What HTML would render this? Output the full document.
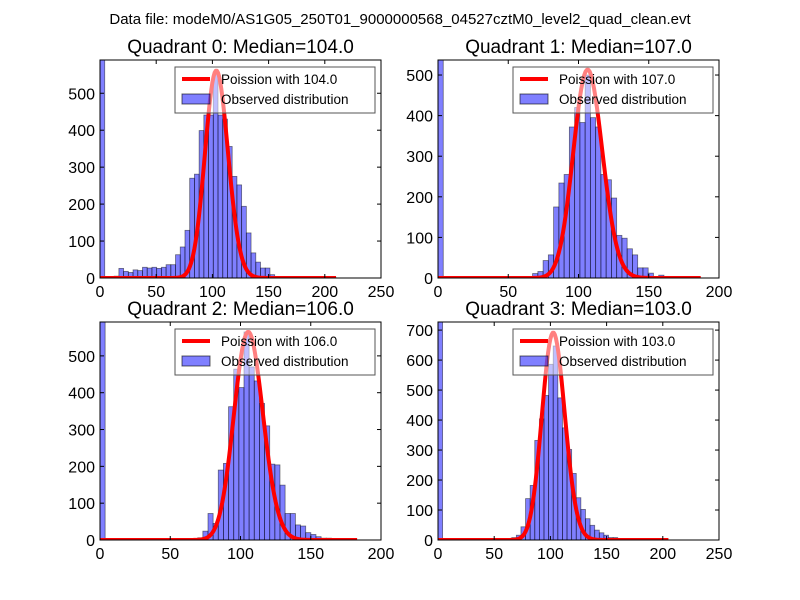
<!DOCTYPE html>
<html><head><meta charset="utf-8"><style>body{margin:0;background:#fff}svg{display:block;font-family:"Liberation Sans","DejaVu Sans",sans-serif}</style></head>
<body>
<svg id="fig" width="800" height="600" viewBox="0 0 800 600">
<rect width="800" height="600" fill="#fff"/>
<text x="400" y="24" text-anchor="middle" font-size="15">Data file: modeM0/AS1G05_250T01_9000000568_04527cztM0_level2_quad_clean.evt</text>
</svg>
<script>
const q0Counts=[590,0,0,5,26,18,15,22,20,29,27,29,26,29,36,36,63,84,129,270,281,399,441,441,558,441,430,356,275,252,194,122,68,43,27,27,9,0,4,4,2,1,2,1,1,2,2,2,1,1];
const q1Counts=[537,0,0,0,0,0,0,0,0,0,0,0,0,0,0,0,0,0,11,16,43,57,175,234,255,372,420,383,500,395,372,255,242,197,105,98,72,57,25,25,12,0,7,4,1,1,1,1,0,0];
const q2Counts=[592,0,0,0,0,0,0,0,0,0,0,0,0,0,0,0,0,0,0,6,24,72,45,190,208,362,464,414,565,470,432,371,310,206,204,149,72,72,41,38,20,15,9,5,5,0,0,0,0,0];
const q3Counts=[727,0,0,0,0,0,0,0,0,0,0,0,0,0,0,0,8,16,44,138,182,332,404,482,586,647,474,374,302,222,141,102,71,49,33,24,16,8,8,4,4,0,4,0,0,0];
const medians=[104,107,106,103];
const poissonPeaks=[561,513,565,691];
const binWidths=[4.2,3.74,3.66,4.1];
const curveMax=[210,187,183,205];
const xMaxes=[250,200,200,250];
const yMaxes=[590,537,592,727];
const xTicks=[[0,50,100,150,200,250],[0,50,100,150,200],[0,50,100,150,200],[0,50,100,150,200,250]];
const yTicks=[[0,100,200,300,400,500],[0,100,200,300,400,500],[0,100,200,300,400,500],[0,100,200,300,400,500,600,700]];
const counts=[q0Counts,q1Counts,q2Counts,q3Counts];
const boxes=[[100,60,281,218],[438,60,281,218],[100,322,281,218],[438,322,281,218]];
const NS='http://www.w3.org/2000/svg';
const svg=document.getElementById('fig');
function mk(t,a,p){const e=document.createElementNS(NS,t);for(const k in a)e.setAttribute(k,a[k]);(p||svg).appendChild(e);return e;}
function lgam(z){const g=[76.18009172947146,-86.50532032941677,24.01409824083091,-1.231739572450155,0.1208650973866179e-2,-0.5395239384953e-5];let x=z,y=z,t=x+5.5;t-=(x+0.5)*Math.log(t);let s=1.000000000190015;for(let j=0;j<6;j++)s+=g[j]/++y;return -t+Math.log(2.5066282746310005*s/x);}
function pois(k,l){return Math.exp(k*Math.log(l)-l-lgam(k+1));}
for(let q=0;q<4;q++){
 const [X0,Y0,W,H]=boxes[q];
 const sx=v=>X0+v/xMaxes[q]*W, sy=v=>Y0+H-v/yMaxes[q]*H;
 const g=mk('g',{});
 
 
 const clip=mk('clipPath',{id:'c'+q},g);mk('rect',{x:X0,y:Y0,width:W,height:H},clip);
 const t=mk('text',{x:X0+W/2,y:Y0-7,'text-anchor':'middle','font-size':'19'},g);t.textContent='Quadrant '+q+': Median='+medians[q].toFixed(1);
 
 
 const pg=mk('g',{'clip-path':'url(#c'+q+')'},g);
 counts[q].forEach((c,i)=>{if(c<=0)return;const x1=sx(i*binWidths[q]),x2=sx((i+1)*binWidths[q]);
  const b=mk('rect',{x:x1,y:sy(c),width:x2-x1,height:sy(0)-sy(c),fill:'rgba(0,0,255,0.5)',stroke:'rgba(0,0,0,0.5)','stroke-width':0.8},pg);
  
  });
 const lam=medians[q],pk=pois(Math.floor(lam),lam);let d='';
 for(let k=0;k<=curveMax[q];k++){const v=pois(k,lam)/pk*poissonPeaks[q];d+=(k?'L':'M')+sx(k).toFixed(2)+','+sy(v).toFixed(2);}
 const ln=mk('path',{d:d,fill:'none',stroke:'#ff0000','stroke-width':4,'stroke-linejoin':'round'},pg);
 
 
 mk('rect',{x:X0,y:Y0,width:W,height:H,fill:'none',stroke:'#000','stroke-width':1},g);
 xTicks[q].forEach(v=>{const x=sx(v);mk('line',{x1:x,x2:x,y1:Y0+H,y2:Y0+H-4,stroke:'#000'},g);mk('line',{x1:x,x2:x,y1:Y0,y2:Y0+4,stroke:'#000'},g);
  const tl=mk('text',{x:x,y:Y0+H+19,'text-anchor':'middle','font-size':'16'},g);tl.textContent=v;
  
  });
 yTicks[q].forEach(v=>{const y=sy(v);mk('line',{x1:X0,x2:X0+4,y1:y,y2:y,stroke:'#000'},g);mk('line',{x1:X0+W,x2:X0+W-4,y1:y,y2:y,stroke:'#000'},g);
  const tl=mk('text',{x:X0-5,y:y+6,'text-anchor':'end','font-size':'16'},g);tl.textContent=v;
  
  });
 const lg=mk('g',{},g);
 
 
 const lx=X0+75,ly=Y0+7;
 mk('rect',{x:lx,y:ly,width:200,height:46,fill:'rgba(255,255,255,0.5)',stroke:'#555','stroke-width':1},lg);
 mk('line',{x1:lx+7,x2:lx+35,y1:ly+12,y2:ly+12,stroke:'#ff0000','stroke-width':4},lg);
 mk('rect',{x:lx+7,y:ly+27,width:28,height:10,fill:'rgba(0,0,255,0.5)',stroke:'rgba(0,0,0,0.6)'},lg);
 const t1=mk('text',{x:lx+46,y:ly+17,'font-size':'13.5'},lg);t1.textContent='Poission with '+medians[q].toFixed(1);
 const t2=mk('text',{x:lx+46,y:ly+37,'font-size':'13.5'},lg);t2.textContent='Observed distribution';
}
</script>
</body></html>
